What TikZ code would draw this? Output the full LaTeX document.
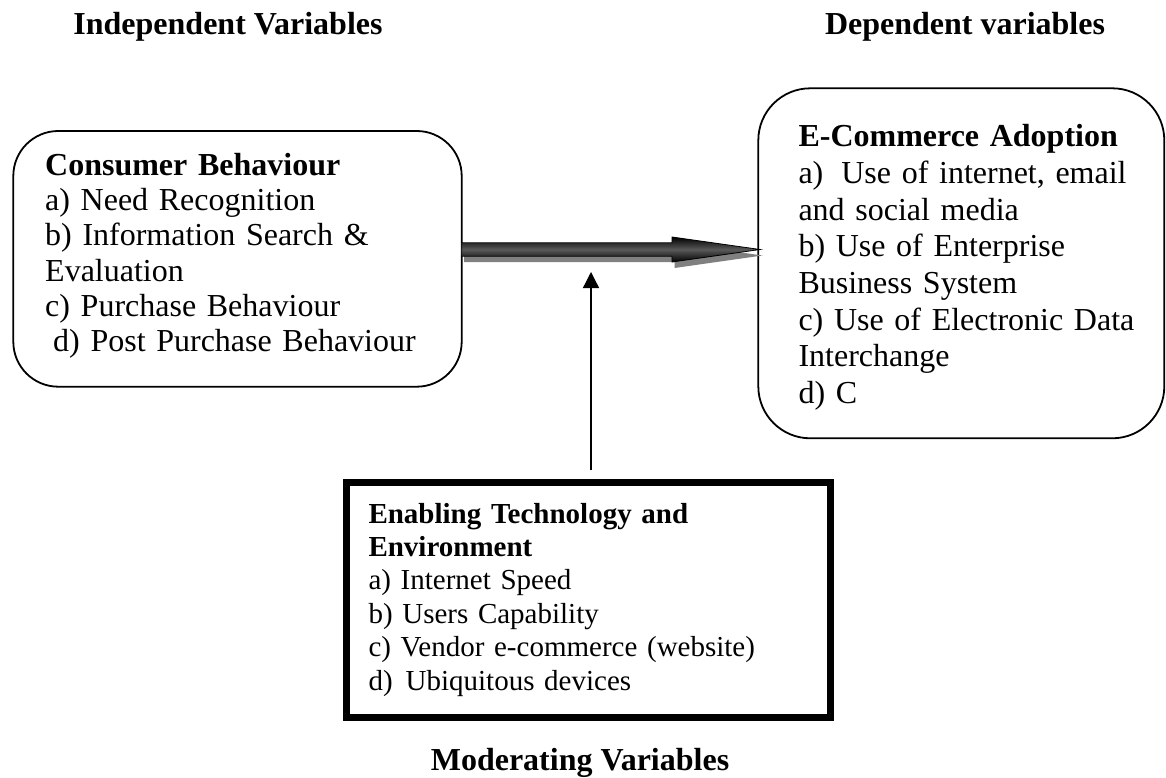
\documentclass[tikz,border=0pt]{standalone}
\usepackage{fontspec}
\setmainfont{Liberation Serif}
\usetikzlibrary{arrows.meta,calc}
\begin{document}
\begin{tikzpicture}[x=1pt,y=-1pt,
  rbox/.style={draw=black, line width=1.8pt, inner sep=0pt, outer sep=0pt, fill=white},
  sbox/.style={draw=black, line width=7pt, inner sep=0pt, outer sep=0pt, fill=white},
  title/.style={anchor=base, inner sep=0pt, font=\fontsize{32}{36}\selectfont\bfseries},
  bigtext/.style={anchor=base west, inner sep=0pt, align=left, text width=#1},
]
\useasboundingbox (0,0) rectangle (1166,778);

% titles
\node[title] (iv) at (228,35) {Independent Variables};
\node[title] (dv) at (965,35) {Dependent variables};
\node[title] (mod) at (580,770) {Moderating Variables};

% boxes
\node[rbox, rounded corners=45pt, minimum width=448.4pt, minimum height=255.7pt] (cb) at (237.5,258.85) {};
\node[rbox, rounded corners=52pt, minimum width=406pt, minimum height=350pt] (ec) at (961.3,263.3) {};
\node[sbox, minimum width=484pt, minimum height=235.5pt] (mv) at (588.5,599.75) {};

% texts
\node[bigtext=420pt, font=\fontsize{32}{35.2}\selectfont] (cbt) at (45,175.5)
  {\textbf{Consumer Behaviour}\\
   a) Need Recognition\\
   b) Information Search \&\\
   Evaluation\\
   c) Purchase Behaviour\\
   \hspace*{8pt}d) Post Purchase Behaviour};
\node[bigtext=365pt, font=\fontsize{32}{36.7}\selectfont] (ect) at (798.3,146.7)
  {\textbf{E-Commerce Adoption}\\
   a)\hspace{18pt}Use of internet, email\\
   and social media\\
   b) Use of Enterprise\\
   Business System\\
   c) Use of Electronic Data\\
   Interchange\\
   d) C};
\node[bigtext=450pt, font=\fontsize{29}{33.4}\selectfont] (mvt) at (368.3,523)
  {\textbf{Enabling Technology and}\\
   \textbf{Environment}\\
   a) Internet Speed\\
   b) Users Capability\\
   c) Vendor e-commerce (website)\\
   d)\hspace{13pt}Ubiquitous devices};

% big arrow
\coordinate (aS) at ([yshift=9.35pt]cb.east);
\coordinate (aT) at ([xshift=1.7pt,yshift=13.8pt]ec.west);
\fill[black!50] let \p1=(aS), \p2=(aT) in
  (\x1+2.5pt,\y1+6.7pt-6pt) -- (\x2-88pt+2.5pt,\y1+6.7pt-6pt) -- (\x2-88pt+2.5pt,\y1+12.5pt-6pt)
  -- (\x2+2.5pt,\y2-6pt) -- (\x2-88pt+2.5pt,\y1-12.5pt-6pt) -- (\x2-88pt+2.5pt,\y1-6.7pt-6pt)
  -- (\x1+2.5pt,\y1-6.7pt-6pt) -- cycle;
\shade[top color=black, bottom color=black, middle color=black!65, draw=black, line width=0.8pt]
  let \p1=(aS), \p2=(aT) in
  (\x1,\y1+6.7pt) -- (\x2-88pt,\y1+6.7pt) -- (\x2-88pt,\y1+12.5pt)
  -- (\x2,\y2) -- (\x2-88pt,\y1-12.5pt) -- (\x2-88pt,\y1-6.7pt)
  -- (\x1,\y1-6.7pt) -- cycle;

% moderating arrow
\coordinate (uS) at ([xshift=2.5pt,yshift=12pt]mv.north);
\coordinate (uT) at ([xshift=2.5pt,yshift=210pt]mv.north);
\draw[line width=1.3pt, -{Triangle[length=16pt,width=16pt]}] (uS) -- (uT);
\end{tikzpicture}
\end{document}
